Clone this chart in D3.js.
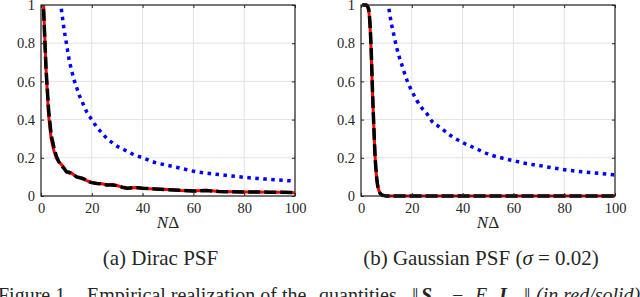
<!DOCTYPE html>
<html>
<head>
<meta charset="utf-8">
<script src="https://cdn.jsdelivr.net/npm/d3@7"></script>
<style>
  body { margin: 0; background: #fff; }
  svg { display: block; }
  text { font-family: "Liberation Serif", "Times New Roman", serif; fill: #262626; }
</style>
</head>
<body>
<div id="fig"></div>
<script>
var w = 640,
  h = 297;

// axis ticks
var xTicks = [0, 20, 40, 60, 80, 100];
var yTicks = [0, 0.2, 0.4, 0.6, 0.8, 1];

// (a) Dirac PSF
var diracN = [1, 2, 3, 4, 5, 6, 7, 8, 9, 10, 11, 12, 13, 14, 15, 16, 17, 18, 19, 20,
  22, 24, 26, 28, 30, 32, 34, 36, 38, 40, 45, 50, 55, 60, 65, 70, 75, 80, 85, 90, 95, 100];
var diracRed = [1.0, 0.66, 0.42, 0.3, 0.24, 0.2, 0.18, 0.165, 0.15, 0.125, 0.12, 0.12, 0.11, 0.1, 0.098, 0.094, 0.09, 0.08, 0.075, 0.07,
  0.066, 0.064, 0.058, 0.06, 0.055, 0.045, 0.04, 0.043, 0.044, 0.04, 0.036, 0.034, 0.029, 0.026, 0.03, 0.024, 0.022, 0.021, 0.021, 0.02, 0.019, 0.017];
var diracBlack = [0.98, 0.66, 0.45, 0.32, 0.26, 0.21, 0.18, 0.16, 0.145, 0.127, 0.125, 0.118, 0.11, 0.1, 0.096, 0.093, 0.088, 0.08, 0.074, 0.07,
  0.066, 0.063, 0.058, 0.058, 0.054, 0.046, 0.041, 0.043, 0.043, 0.04, 0.037, 0.033, 0.03, 0.026, 0.029, 0.024, 0.022, 0.021, 0.021, 0.02, 0.019, 0.018];
var diracBoundN = [8, 9, 10, 11, 12, 13, 14, 15, 16, 18, 20, 22, 24, 26, 28, 30, 33, 36, 40, 45, 50, 55, 60, 65, 70, 75, 80, 85, 90, 95, 100];
var diracBlue = [0.98, 0.88, 0.8, 0.72, 0.66, 0.61, 0.57, 0.53, 0.5, 0.44, 0.4, 0.36, 0.33, 0.3, 0.28, 0.26, 0.24, 0.22, 0.2, 0.175,
  0.16, 0.145, 0.13, 0.12, 0.112, 0.105, 0.098, 0.092, 0.087, 0.082, 0.078];

// (b) Gaussian PSF
var gaussN = [0.5, 1, 2, 3, 3.5, 4, 4.5, 5, 5.5, 6, 6.5, 7, 7.5, 8, 9, 10, 20, 30, 40, 50, 60, 70, 80, 90, 100];
var gaussRed = [1, 1, 1, 0.97, 0.9, 0.76, 0.55, 0.38, 0.22, 0.12, 0.06, 0.03, 0.015, 0.007, 0.002, 0, 0, 0, 0, 0, 0, 0, 0, 0, 0];
var gaussBlack = [1, 1, 1, 0.98, 0.91, 0.77, 0.56, 0.38, 0.22, 0.12, 0.06, 0.03, 0.015, 0.007, 0.002, 0, 0, 0, 0, 0, 0, 0, 0, 0, 0];
var gaussBoundN = [11, 12, 13, 14, 15, 16, 18, 20, 22, 24, 26, 28, 30, 33, 36, 40, 45, 50, 55, 60, 65, 70, 75, 80, 85, 90, 95, 100];
var gaussBlue = [0.98, 0.9, 0.84, 0.78, 0.73, 0.69, 0.61, 0.55, 0.5, 0.46, 0.43, 0.39, 0.37, 0.34, 0.31, 0.28, 0.25, 0.22,
  0.2, 0.185, 0.17, 0.16, 0.148, 0.138, 0.13, 0.123, 0.117, 0.11];

var panels = [
  { left: 41, caption: '(a) Dirac PSF', red: [diracN, diracRed], black: [diracN, diracBlack], blue: [diracBoundN, diracBlue], curve: d3.curveLinear },
  { left: 361, caption: '(b) Gaussian PSF', red: [gaussN, gaussRed], black: [gaussN, gaussBlack], blue: [gaussBoundN, gaussBlue], curve: d3.curveMonotoneX }
];

var pw = 254, pTop = 5, ph = 191;

var svg = d3.select('#fig').append('svg')
  .attr('width', w)
  .attr('height', h);

function pairs(s) {
  return s[0].map(function(n, i) { return [n, s[1][i]]; });
}

panels.forEach(function(p, k) {
  var x = d3.scaleLinear().domain([0, 100]).range([p.left, p.left + pw]);
  var y = d3.scaleLinear().domain([0, 1]).range([pTop + ph, pTop]);
  var g = svg.append('g');

  g.append('clipPath').attr('id', 'clip' + k)
    .append('rect').attr('x', p.left).attr('y', pTop - 2).attr('width', pw + 2).attr('height', ph + 4);

  // grid
  g.selectAll('.gx').data(xTicks).enter().append('line')
    .attr('x1', x).attr('x2', x).attr('y1', pTop).attr('y2', pTop + ph)
    .attr('stroke', '#e3e3e3').attr('stroke-width', 1);
  g.selectAll('.gy').data(yTicks).enter().append('line')
    .attr('y1', y).attr('y2', y).attr('x1', p.left).attr('x2', p.left + pw)
    .attr('stroke', '#e3e3e3').attr('stroke-width', 1);

  var line = d3.line()
    .x(function(d) { return x(d[0]); })
    .y(function(d) { return y(d[1]); });

  var lines = g.append('g').attr('clip-path', 'url(#clip' + k + ')');
  lines.append('path').datum(pairs(p.blue)).attr('d', line.curve(d3.curveMonotoneX))
    .attr('fill', 'none').attr('stroke', '#0000ff').attr('stroke-width', 3.5)
    .attr('stroke-dasharray', '3.5,4.5');
  line.curve(p.curve);
  lines.append('path').datum(pairs(p.red)).attr('d', line)
    .attr('fill', 'none').attr('stroke', '#ff0000').attr('stroke-width', 3);
  lines.append('path').datum(pairs(p.black)).attr('d', line)
    .attr('fill', 'none').attr('stroke', '#000').attr('stroke-width', 3.5)
    .attr('stroke-dasharray', '12,4');

  // axes with inward ticks, on all four sides
  var ax = g.append('g').attr('transform', 'translate(0,' + (pTop + ph) + ')')
    .call(d3.axisBottom(x).tickValues(xTicks).tickSizeInner(-3).tickSizeOuter(0).tickPadding(7));
  var ay = g.append('g').attr('transform', 'translate(' + p.left + ',0)')
    .call(d3.axisLeft(y).tickValues(yTicks).tickSizeInner(-3).tickSizeOuter(0).tickPadding(6)
      .tickFormat(function(d) { return d === 0 ? '0' : d === 1 ? '1' : d3.format('.1f')(d); }));
  var axT = g.append('g').attr('transform', 'translate(0,' + pTop + ')')
    .call(d3.axisTop(x).tickValues(xTicks).tickSizeInner(-3).tickSizeOuter(0).tickFormat(''));
  var ayR = g.append('g').attr('transform', 'translate(' + (p.left + pw) + ',0)')
    .call(d3.axisRight(y).tickValues(yTicks).tickSizeInner(-3).tickSizeOuter(0).tickFormat(''));
  [ax, ay, axT, ayR].forEach(function(a) {
    a.select('.domain').remove();
    a.selectAll('line').attr('stroke', '#262626');
    a.selectAll('text').attr('font-size', 14.5).attr('fill', '#262626');
  });

  // box
  g.append('rect').attr('x', p.left).attr('y', pTop).attr('width', pw).attr('height', ph)
    .attr('fill', 'none').attr('stroke', '#262626').attr('stroke-width', 1.2);

  // x label
  var xl = g.append('text').attr('x', p.left + pw / 2).attr('y', 228)
    .attr('text-anchor', 'middle').attr('font-size', 17);
  xl.append('tspan').attr('font-style', 'italic').text('N');
  xl.append('tspan').text('\u0394');

  // sub caption
  var cap = g.append('text').attr('x', k === 0 ? 160.5 : 481).attr('y', 265)
    .attr('text-anchor', 'middle').attr('font-size', 21).attr('fill', '#000')
    .text(p.caption);
  if (k === 1) {
    cap.append('tspan').text(' (');
    cap.append('tspan').attr('font-style', 'italic').text('\u03c3');
    cap.append('tspan').text(' = 0.02)');
  }
});

// figure caption, cut by the bottom edge
var capY = 302;
function capText(x0, str, style) {
  var t = svg.append('text').attr('x', x0).attr('y', capY).attr('font-size', 20).attr('fill', '#000').text(str);
  if (style === 'bi') t.attr('font-weight', 'bold').attr('font-style', 'italic');
  if (style === 'i') t.attr('font-style', 'italic');
  return t;
}
capText(-2, 'Figure 1.');
capText(87, 'Empirical realization of the');
capText(319, 'quantities');
capText(412, '||').attr('letter-spacing', -1.5);
capText(421, 'S', 'bi');
capText(452, '\u2212');
capText(475, 'E', 'i');
capText(499, 'I', 'bi');
capText(524, '||').attr('letter-spacing', -1.5);
capText(536, '(in red/solid)', 'i');
</script>
</body>
</html>
